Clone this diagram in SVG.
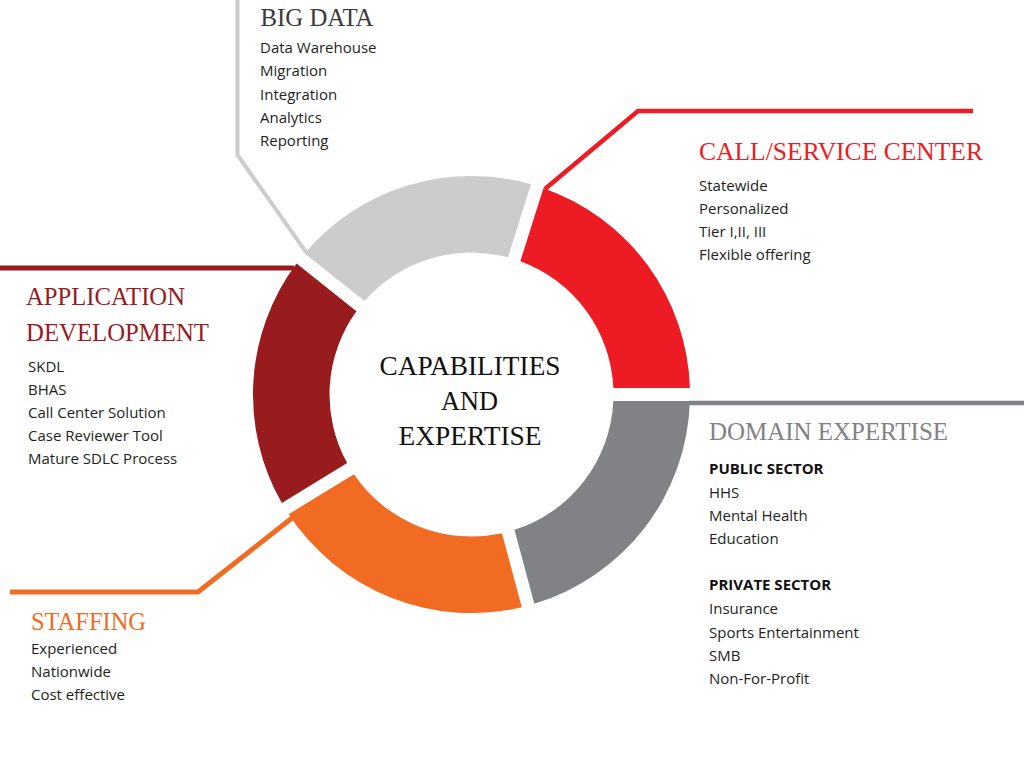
<svg xmlns="http://www.w3.org/2000/svg" width="1024" height="765" viewBox="0 0 1024 765">
<style>
.title{font-family:"Liberation Serif","DejaVu Serif",serif;font-size:25px;}
.item{font-family:"Open Sans","Liberation Sans",sans-serif;font-size:15px;fill:#231F20;}
.bold{font-family:"Open Sans","Liberation Sans",sans-serif;font-size:15px;font-weight:bold;fill:#111;}
.center{font-family:"Liberation Serif","DejaVu Serif",serif;font-size:28px;fill:#111;text-anchor:middle;}
.conn{fill:none;stroke-linejoin:miter;stroke-linecap:butt;}
</style>
<rect width="1024" height="765" fill="#ffffff"/>
<g id="connectors">
<polyline class="conn" points="545,189 638,111 973,111" stroke="#ED1C24" stroke-width="4.5"/>
<polyline class="conn" points="306,252 237.5,155 237.5,0" stroke="#CCCCCC" stroke-width="4"/>
<polyline class="conn" points="294,268 0,268" stroke="#981B1E" stroke-width="5"/>
<polyline class="conn" points="292,518 198,592 10,592" stroke="#F26B22" stroke-width="5"/>
<polyline class="conn" points="689,403 1024,403" stroke="#808285" stroke-width="4.5"/>
</g>
<g id="call-service-center">
<path d="M689.9,388 A218.5,218.5 0 0 0 543.4,188.2 L520.35,261.2 A142,142 0 0 1 613.35,388 Z" fill="#ED1C24"/>
<text class="title" x="699" y="160" fill="#ED1C24" textLength="284" lengthAdjust="spacingAndGlyphs">CALL/SERVICE CENTER</text>
<text class="item" x="699" y="190.5">Statewide</text>
<text class="item" x="699" y="213.5">Personalized</text>
<text class="item" x="699" y="236.5">Tier I,II, III</text>
<text class="item" x="699" y="260">Flexible offering</text>
</g>
<g id="big-data">
<path d="M530.98,184.26 A218.5,218.5 0 0 0 304.63,253.44 L364.55,301.09 A142,142 0 0 1 507.97,257.26 Z" fill="#CCCCCC"/>
<text class="title" x="260.5" y="25.5" fill="#3A3A3A" textLength="113" lengthAdjust="spacingAndGlyphs">BIG DATA</text>
<text class="item" x="260" y="53">Data Warehouse</text>
<text class="item" x="260" y="76">Migration</text>
<text class="item" x="260" y="99.5">Integration</text>
<text class="item" x="260" y="122.5">Analytics</text>
<text class="item" x="260" y="146">Reporting</text>
</g>
<g id="application-development">
<path d="M296.53,263.62 A218.5,218.5 0 0 0 281.86,503.07 L347.16,463.09 A142,142 0 0 1 356.44,311.3 Z" fill="#981B1E"/>
<text class="title" x="26" y="305" fill="#981B1E" textLength="159" lengthAdjust="spacingAndGlyphs">APPLICATION</text>
<text class="title" x="26" y="340.5" fill="#981B1E" textLength="183" lengthAdjust="spacingAndGlyphs">DEVELOPMENT</text>
<text class="item" x="28" y="371.5">SKDL</text>
<text class="item" x="28" y="394.5">BHAS</text>
<text class="item" x="28" y="417.5">Call Center Solution</text>
<text class="item" x="28" y="440.5">Case Reviewer Tool</text>
<text class="item" x="28" y="464">Mature SDLC Process</text>
</g>
<g id="staffing">
<path d="M288.66,514.17 A218.5,218.5 0 0 0 521.75,607.14 L501.94,533.19 A142,142 0 0 1 353.95,474.15 Z" fill="#F26B22"/>
<text class="title" x="31" y="630" fill="#F26B22" textLength="115" lengthAdjust="spacingAndGlyphs">STAFFING</text>
<text class="item" x="31" y="654">Experienced</text>
<text class="item" x="31" y="677">Nationwide</text>
<text class="item" x="31" y="700">Cost effective</text>
</g>
<g id="domain-expertise">
<path d="M534.3,603.78 A218.5,218.5 0 0 0 689.9,401 L613.35,401 A142,142 0 0 1 514.48,529.84 Z" fill="#808285"/>
<text class="title" x="709" y="440" fill="#808285" textLength="239" lengthAdjust="spacingAndGlyphs">DOMAIN EXPERTISE</text>
<text class="bold" x="709" y="474">PUBLIC SECTOR</text>
<text class="item" x="709" y="497.5">HHS</text>
<text class="item" x="709" y="520.5">Mental Health</text>
<text class="item" x="709" y="544">Education</text>
<text class="bold" x="709" y="590">PRIVATE SECTOR</text>
<text class="item" x="709" y="614">Insurance</text>
<text class="item" x="709" y="637.5">Sports Entertainment</text>
<text class="item" x="709" y="660.5">SMB</text>
<text class="item" x="709" y="684">Non-For-Profit</text>
</g>
<g id="center">
<text class="center" x="470" y="374.5" textLength="181" lengthAdjust="spacingAndGlyphs">CAPABILITIES</text>
<text class="center" x="469.5" y="410" textLength="57" lengthAdjust="spacingAndGlyphs">AND</text>
<text class="center" x="470" y="444.5" textLength="143" lengthAdjust="spacingAndGlyphs">EXPERTISE</text>
</g>
</svg>
